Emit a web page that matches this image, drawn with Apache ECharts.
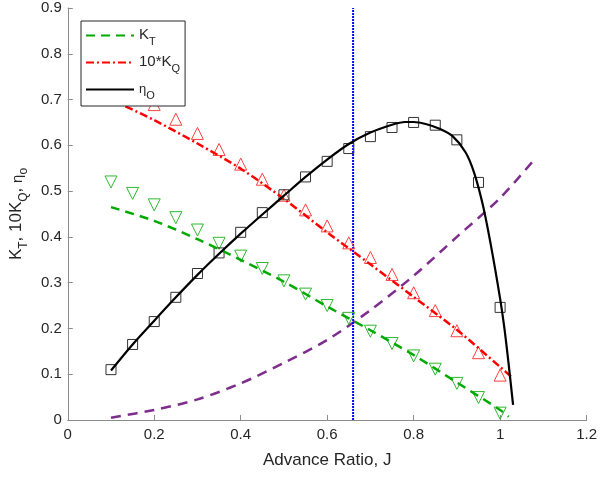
<!DOCTYPE html>
<html>
<head>
<meta charset="utf-8">
<script src="https://cdn.jsdelivr.net/npm/echarts@6/dist/echarts.min.js"></script>
<style>
  html, body { margin: 0; padding: 0; background: #fff; }
  #chart { width: 600px; height: 477px; }
</style>
</head>
<body>
<div id="chart"></div>
<script>
// measured points (markers)
const J_exp = [0.1, 0.15, 0.2, 0.25, 0.3, 0.35, 0.4, 0.45, 0.5, 0.55, 0.6, 0.65, 0.7, 0.75, 0.8, 0.85, 0.9, 0.95, 1.0];
const KT_exp = [0.52, 0.495, 0.47, 0.442, 0.415, 0.386, 0.358, 0.331, 0.304, 0.275, 0.25, 0.222, 0.194, 0.167, 0.14, 0.111, 0.08, 0.049, 0.015];
const KQ10_exp = [0.76, 0.725, 0.689, 0.657, 0.626, 0.591, 0.559, 0.526, 0.491, 0.459, 0.424, 0.387, 0.355, 0.318, 0.278, 0.239, 0.195, 0.147, 0.098];
const eta_exp = [0.11, 0.165, 0.215, 0.268, 0.32, 0.365, 0.41, 0.453, 0.492, 0.531, 0.565, 0.593, 0.619, 0.639, 0.65, 0.644, 0.612, 0.519, 0.246];

// fitted curves
const KT_fit = [[0.1, 0.465], [0.2, 0.435], [0.3, 0.395], [0.4, 0.35], [0.5, 0.302], [0.6, 0.248], [0.7, 0.196], [0.8, 0.142], [0.9, 0.082], [1.0, 0.022], [1.02, 0.007]];
const KQ10_fit = [[0.1, 0.70], [0.2, 0.655], [0.3, 0.604], [0.4, 0.549], [0.5, 0.483], [0.6, 0.41], [0.7, 0.34], [0.8, 0.269], [0.9, 0.197], [1.0, 0.116], [1.03, 0.091]];
const eta_fit = [[0.1, 0.108], [0.15, 0.165], [0.2, 0.217], [0.25, 0.268], [0.3, 0.317], [0.35, 0.363], [0.4, 0.407], [0.45, 0.449], [0.5, 0.49], [0.55, 0.531], [0.6, 0.569], [0.65, 0.603], [0.7, 0.628], [0.75, 0.645], [0.78, 0.651], [0.8, 0.651], [0.83, 0.646], [0.86, 0.636], [0.89, 0.62], [0.92, 0.585], [0.94, 0.54], [0.96, 0.47], [0.98, 0.375], [1.0, 0.265], [1.01, 0.2], [1.02, 0.12], [1.03, 0.033]];
const hull_curve = [[0.1, 0.005], [0.2, 0.022], [0.3, 0.045], [0.4, 0.08], [0.5, 0.125], [0.6, 0.175], [0.7, 0.24], [0.8, 0.315], [0.9, 0.4], [1.0, 0.485], [1.08, 0.57]];
const J_design = [[0.66, 0], [0.66, 0.9]];

const font = "Liberation Sans, Arial, sans-serif";
const pair = (xs, ys) => xs.map((x, i) => [x, ys[i]]);

const legendNames = {
  KT: "{n|K}{s|T}",
  KQ: "{n|10*K}{s|Q}",
  eta: "{g|η}{s|O}"
};

const richAxis = {
  n: { fontSize: 17, lineHeight: 19, verticalAlign: "top", color: "#262626", fontFamily: font },
  g: { fontSize: 15, lineHeight: 19, verticalAlign: "top", padding: [2, 0, 0, 0], color: "#262626", fontFamily: font },
  s: { fontSize: 12, lineHeight: 12, verticalAlign: "top", padding: [10, 0, 0, 0], color: "#262626", fontFamily: font }
};
const richLegend = {
  n: { fontSize: 15, lineHeight: 17, verticalAlign: "top", color: "#262626", fontFamily: font },
  g: { fontSize: 13, lineHeight: 17, verticalAlign: "top", padding: [2, 0, 0, 0], color: "#262626", fontFamily: font },
  s: { fontSize: 11, lineHeight: 11, verticalAlign: "top", padding: [9, 0, 0, 0], color: "#262626", fontFamily: font }
};

let chart = echarts.init(document.getElementById("chart"));
chart.setOption({
  animation: false,
  grid: { left: 67, right: 11, top: 8, bottom: 57, containLabel: false },
  legend: {
    orient: "vertical",
    left: 81,
    top: 21,
    z: 10,
    padding: [6, 5, 5, 4],
    itemGap: 7,
    itemWidth: 48,
    itemHeight: 14,
    backgroundColor: "#fff",
    borderColor: "#262626",
    borderWidth: 1,
    itemStyle: { opacity: 0 },
    data: ["KT", "KQ", "eta"],
    formatter: name => legendNames[name],
    textStyle: { rich: richLegend }
  },
  xAxis: {
    type: "value",
    min: 0,
    max: 1.2,
    interval: 0.2,
    name: "Advance Ratio, J",
    nameLocation: "middle",
    nameGap: 32,
    nameTextStyle: { fontSize: 17, color: "#262626", fontFamily: font },
    axisLine: { lineStyle: { color: "#8c8c8c", width: 1 } },
    axisTick: { inside: true, length: 5, lineStyle: { color: "#8c8c8c" } },
    axisLabel: { fontSize: 15, color: "#262626", fontFamily: font, margin: 7 },
    splitLine: { show: false }
  },
  yAxis: {
    type: "value",
    min: 0,
    max: 0.9,
    interval: 0.1,
    name: "{n|K}{s|T}{n|, 10K}{s|Q}{n|, }{g|η}{s|o}",
    nameLocation: "middle",
    nameRotate: 90,
    nameGap: 39,
    nameTextStyle: { rich: richAxis },
    axisLine: { show: true, lineStyle: { color: "#8c8c8c", width: 1 } },
    axisTick: { show: true, inside: true, length: 5, lineStyle: { color: "#8c8c8c" } },
    axisLabel: { fontSize: 15, color: "#262626", fontFamily: font, margin: 6 },
    splitLine: { show: false }
  },
  series: [
    {
      name: "hull", type: "line", data: hull_curve, symbol: "none", smooth: 0.3,
      lineStyle: { color: "#7E2F8E", width: 2.5, type: [10, 7] }, z: 2
    },
    {
      name: "design", type: "line", data: J_design, symbol: "none",
      lineStyle: { color: "#0000ff", width: 2, type: [2, 1] }, z: 2
    },
    {
      name: "KT_exp", type: "scatter", data: pair(J_exp, KT_exp), symbol: "triangle", symbolRotate: 180, symbolSize: 12,
      itemStyle: { color: "transparent", borderColor: "#2fb82f", borderWidth: 1, opacity: 1 }, z: 3
    },
    {
      name: "KQ_exp", type: "scatter", data: pair(J_exp, KQ10_exp), symbol: "triangle", symbolSize: 12,
      itemStyle: { color: "transparent", borderColor: "#ff4040", borderWidth: 1, opacity: 1 }, z: 3
    },
    {
      name: "eta_exp", type: "scatter", data: pair(J_exp, eta_exp), symbol: "rect", symbolSize: 10,
      itemStyle: { color: "transparent", borderColor: "#333333", borderWidth: 1, opacity: 1 }, z: 3
    },
    {
      name: "KT", type: "line", data: KT_fit, symbol: "none", smooth: 0.3,
      lineStyle: { color: "#00aa00", width: 2.5, type: [9, 6] }, itemStyle: { color: "#00aa00" }, z: 4
    },
    {
      name: "KQ", type: "line", data: KQ10_fit, symbol: "none", smooth: 0.3,
      lineStyle: { color: "#ff0000", width: 2.5, type: [8, 3, 2, 3] }, itemStyle: { color: "#ff0000" }, z: 4
    },
    {
      name: "eta", type: "line", data: eta_fit, symbol: "none", smooth: 0.3,
      lineStyle: { color: "#000000", width: 2.2 }, itemStyle: { color: "#000000" }, z: 4
    }
  ]
});
</script>
</body>
</html>
